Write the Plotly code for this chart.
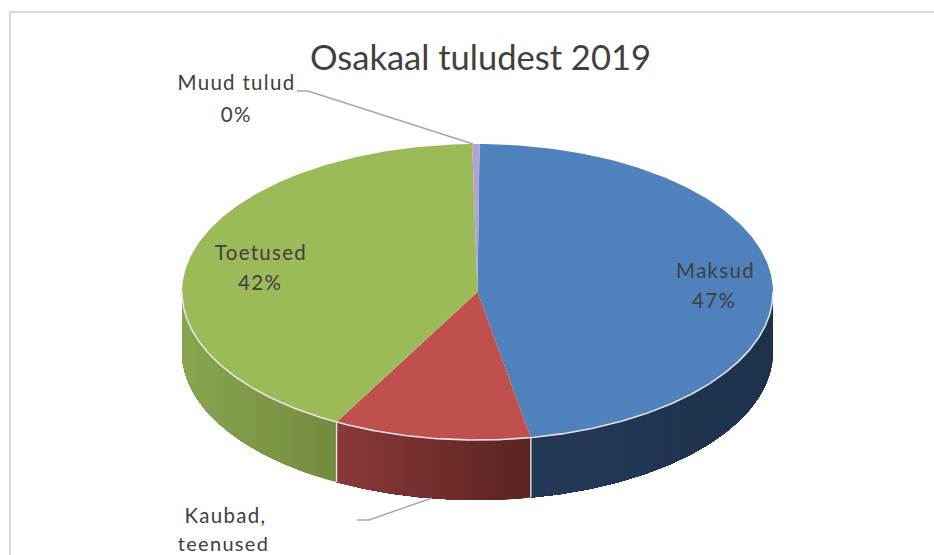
import numpy as np
import plotly.graph_objects as go

# Data
categories = ["Maksud", "Kaubad, teenused", "Toetused", "Muud tulud"]
shares = [47.0, 10.8, 41.8, 0.4]
title_text = "Osakaal tuludest 2019"

# Style
top_colors = ["#4f81bd", "#c0504d", "#9bbb59", "#b3a2d3"]
wall_from = [(36, 58, 88), (139, 58, 56), (137, 166, 80), (128, 100, 162)]
wall_to = [(30, 50, 76), (90, 35, 33), (116, 139, 64), (128, 100, 162)]
FONT = "Lato"
TXT = "#404040"
CX, CY, RX, RY, DEPTH = 477.5, 292.0, 295.5, 148.0, 60.0
ROT = 0.4
EDGE = "#e4e4e4"


def rim(deg):
    t = np.radians(deg)
    return CX + RX * np.sin(t), CY - RY * np.cos(t)


fig = go.Figure()


def poly(x, y, color):
    fig.add_trace(go.Scatter(x=list(x), y=list(y), mode="lines", fill="toself",
                             fillcolor=color, line=dict(color=color, width=0),
                             hoverinfo="skip", showlegend=False))


def line(x, y, color, width):
    fig.add_trace(go.Scatter(x=list(x), y=list(y), mode="lines",
                             line=dict(color=color, width=width),
                             hoverinfo="skip", showlegend=False))


edges = ROT + np.concatenate([[0], np.cumsum(shares)]) * 3.6

# Side walls (front half only): nested graded sweeps so no seams show.
# Blue and green/red walls are painted so each later sweep covers the rest of the slice.
for i in range(len(shares)):
    a0, a1 = max(edges[i], 90), min(edges[i + 1], 270)
    if a1 <= a0:
        continue
    n = 60
    steps = np.linspace(a0, a1, n + 1)
    x_lo, x_hi = rim(a0)[0], rim(a1)[0]
    xmin, span = min(x_lo, x_hi), abs(x_hi - x_lo)
    for j in range(n):
        seg = np.linspace(steps[j], a1, max(4, (n - j) * 3))
        xs, ys = rim(seg)
        f = (rim((steps[j] + steps[j + 1]) / 2)[0] - xmin) / span
        c0, c1 = wall_from[i], wall_to[i]
        col = "rgb(%d,%d,%d)" % tuple(c0[k] + (c1[k] - c0[k]) * f for k in range(3))
        poly(np.r_[xs, xs[::-1], xs[0]], np.r_[ys, ys[::-1] + DEPTH, ys[0]], col)

# Top faces
for i in range(len(shares)):
    seg = np.linspace(edges[i], edges[i + 1], 200)
    xs, ys = rim(seg)
    poly(np.r_[CX, xs, CX], np.r_[CY, ys, CY], top_colors[i])

# Front rim and slice separators
seg = np.linspace(90, 270, 400)
xs, ys = rim(seg)
line(xs, ys, EDGE, 1.6)
for i in (1, 2):
    ex, ey = rim(edges[i])
    line([ex, ex], [ey, ey + DEPTH], EDGE, 1.4)

# Leader lines
line([297, 308, 473], [91, 91, 144], "#a6a6a6", 1.4)
line([357, 369, 432], [520, 520, 498], "#a6a6a6", 1.4)

# Frame
line([10, 10, 934], [555, 12, 12], "#d9d9d9", 2)

pct = ["%d%%" % round(v) for v in shares]
texts = [
    (title_text, 480, 56, 34.5),
    (categories[3], 236, 82, 20.5), (pct[3], 236, 114, 20.5),
    (categories[0], 715, 270, 20.5), (pct[0], 714, 300, 20.5),
    (categories[2], 261, 252, 20.5), (pct[2], 260, 282, 20.5),
    ("Kaubad,", 225, 515, 20.5), ("teenused", 223, 543, 20),
]
for t, x, y, s in texts:
    fig.add_annotation(x=x, y=y, text=t, showarrow=False, xanchor="center", yanchor="middle",
                       font=dict(family=FONT, size=s, color=TXT))

fig.update_xaxes(range=[0, 934], visible=False, fixedrange=True)
fig.update_yaxes(range=[555, 0], visible=False, fixedrange=True)
fig.update_layout(width=934, height=555, margin=dict(l=0, r=0, t=0, b=0),
                  paper_bgcolor="white", plot_bgcolor="white", showlegend=False)
fig.write_html("out.html", config={"displayModeBar": False, "responsive": False},
               post_script=("document.body.style.margin='0';"
                            "document.documentElement.style.overflow='hidden';"
                            "document.querySelectorAll('.annotation-text').forEach(function(t){"
                            "if(parseFloat(t.style.fontSize)<25){t.style.letterSpacing='1.3px';}});"))
